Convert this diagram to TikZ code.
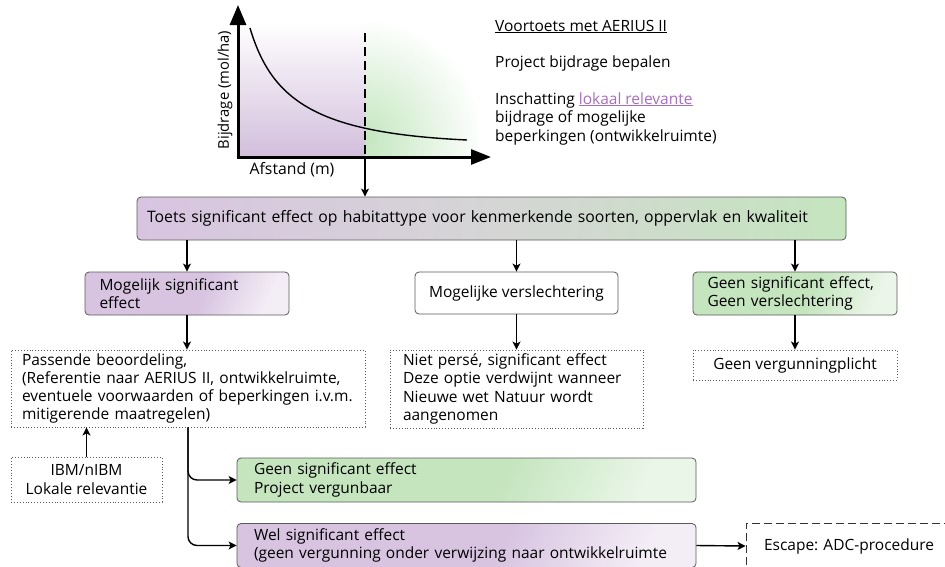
\documentclass[tikz,border=0pt]{standalone}
\usepackage{fontspec}
\setmainfont{Open Sans}
\usetikzlibrary{arrows.meta}
\definecolor{pur}{HTML}{D8C4E1}
\definecolor{grn}{HTML}{C4E5BE}
\definecolor{midg}{HTML}{D5D5D5}
\definecolor{bord}{HTML}{5A5A5A}
\definecolor{linkc}{HTML}{A86CC1}
\definecolor{chpur}{HTML}{D2BEDC}
\definecolor{chgrn}{HTML}{C2E6BD}
\pgfdeclarehorizontalshading{purfade}{100bp}{color(0bp)=(pur); color(25bp)=(pur); color(55bp)=(pur); color(75bp)=(pur!30); color(100bp)=(pur!30)}
\pgfdeclarehorizontalshading{grnfade}{100bp}{color(0bp)=(grn); color(25bp)=(grn); color(55bp)=(grn); color(75bp)=(grn!35); color(100bp)=(grn!35)}
\pgfdeclarehorizontalshading{toetsfade}{100bp}{color(0bp)=(pur); color(25bp)=(pur); color(50bp)=(midg); color(75bp)=(grn); color(100bp)=(grn)}
\frenchspacing
\begin{document}
\begin{tikzpicture}[x=1pt,y=-1pt,
  every node/.style={font=\fontsize{15.5}{18.3}\selectfont, inner sep=0pt},
  arr/.style={line width=1.4pt, -{Stealth[length=8pt,width=8pt,inset=2pt]}},
  gbox/.style={draw=bord, line width=0.8pt, rounded corners=4pt},
  dbox/.style={draw=bord, line width=0.9pt, dotted},
  pbox/.style={gbox, shade, shading=purfade, shading angle=-25},
  grbox/.style={gbox, shade, shading=grnfade, shading angle=-25}
]
\useasboundingbox (0,0) rectangle (945,566);

% ---- chart ----
\shade[top color=white, bottom color=chpur] (238,22) rectangle (365,157);
\begin{scope}
  \clip (365,22) rectangle (478,157);
  \shade[inner color=chgrn, outer color=white] (362,140) circle (122);
\end{scope}
\draw[line width=1.4pt] (250,28) .. controls (272,102) and (318,133) .. (467,140);
\draw[line width=2pt, dash pattern=on 9pt off 5pt] (365,33) -- (365,157);
\draw[line width=3pt, -{Triangle[length=20pt,width=16pt]}] (238,158.5) -- (238,5);
\draw[line width=3pt, -{Triangle[length=20pt,width=15pt]}] (236.5,157) -- (491,157);
\coordinate (dashend) at (365,157);
\node[rotate=90, font=\fontsize{14.8}{17}\selectfont] (ylab) at (225,90) {Bijdrage (mol/ha)};
\node[font=\fontsize{15.8}{18}\selectfont] (xlab) at (292,170) {Afstand (m)};

% ---- top text ----
\node[anchor=base west] (t1) at (495,31) {\underline{Voortoets met AERIUS II}};
\node[anchor=base west] (t2) at (495,67) {Project bijdrage bepalen};
\node[anchor=base west] (t3) at (495,104) {Inschatting {\color{linkc}\underline{lokaal relevante}}};
\node[anchor=base west] (t4) at (495,122) {bijdrage of mogelijke};
\node[anchor=base west] (t5) at (495,141) {beperkingen (ontwikkelruimte)};

% ---- main boxes ----
\node[gbox, shade, shading=toetsfade, minimum height=43pt, text width=689pt, inner xsep=10pt, align=left, font=\fontsize{15.8}{18.3}\selectfont] (toets) at (491.5,218.5)
  {Toets significant effect op habitattype voor kenmerkende soorten, oppervlak en kwaliteit};

\node[pbox, minimum height=43pt, text width=175pt, inner xsep=14.5pt, align=left] (mog) at (187,293.5)
  {Mogelijk significant\\effect};
\node[gbox, fill=white, minimum height=42pt, minimum width=203pt, align=center] (mid) at (516.5,293)
  {Mogelijke verslechtering};
\node[grbox, minimum height=43pt, text width=175pt, inner xsep=14.5pt, align=left] (geen) at (795,293.5)
  {Geen significant effect,\\Geen verslechtering};

\node[dbox, minimum height=77pt, text width=332pt, inner xsep=11pt, align=left] (pass) at (188,388.5)
  {Passende beoordeling,\\(Referentie naar AERIUS II, ontwikkelruimte,\\eventuele voorwaarden of beperkingen i.v.m.\\mitigerende maatregelen)};
\node[dbox, minimum height=78pt, text width=227pt, inner xsep=13pt, align=left] (niet) at (516.5,389)
  {Niet persé, significant effect\\Deze optie verdwijnt wanneer\\Nieuwe wet Natuur wordt\\aangenomen};
\node[dbox, minimum height=30pt, minimum width=204pt, align=center] (gvp) at (795,365)
  {Geen vergunningplicht};

\node[dbox, minimum height=45pt, minimum width=151pt, align=center] (ibm) at (86.5,479.5)
  {IBM/nIBM\\Lokale relevantie};

\node[grbox, minimum height=44pt, text width=425pt, inner xsep=17pt, align=left] (gb) at (466.5,480)
  {Geen significant effect\\Project vergunbaar};
\node[pbox, minimum height=44pt, text width=425pt, inner xsep=17pt, align=left] (wel) at (466.5,545.5)
  {Wel significant effect\\(geen vergunning onder verwijzing naar ontwikkelruimte};
\node[draw=black!80, line width=0.9pt, dash pattern=on 8pt off 4pt, minimum height=46pt, text width=200pt, inner xsep=18pt, align=left] (esc) at (864,546)
  {Escape: ADC-procedure};

% ---- connectors ----
\draw[arr] (dashend) -- (dashend |- toets.north);
\draw[arr] (toets.south -| mog.north) -- (mog.north);
\draw[arr] (toets.south -| mid.north) -- (mid.north);
\draw[arr] (toets.south -| geen.north) -- (geen.north);
\draw[arr] (mog.south) -- (mog.south |- pass.north);
\draw[arr] (mid.south) -- (niet.north);
\draw[arr] (geen.south) -- (gvp.north);
\draw[arr] (ibm.north) -- (ibm.north |- pass.south);
\draw[arr, rounded corners=9pt] (pass.south) |- (gb.west);
\draw[arr, rounded corners=9pt] (pass.south) |- (wel.west);
\draw[arr] (wel.east) -- (esc.west);
\end{tikzpicture}
\end{document}
